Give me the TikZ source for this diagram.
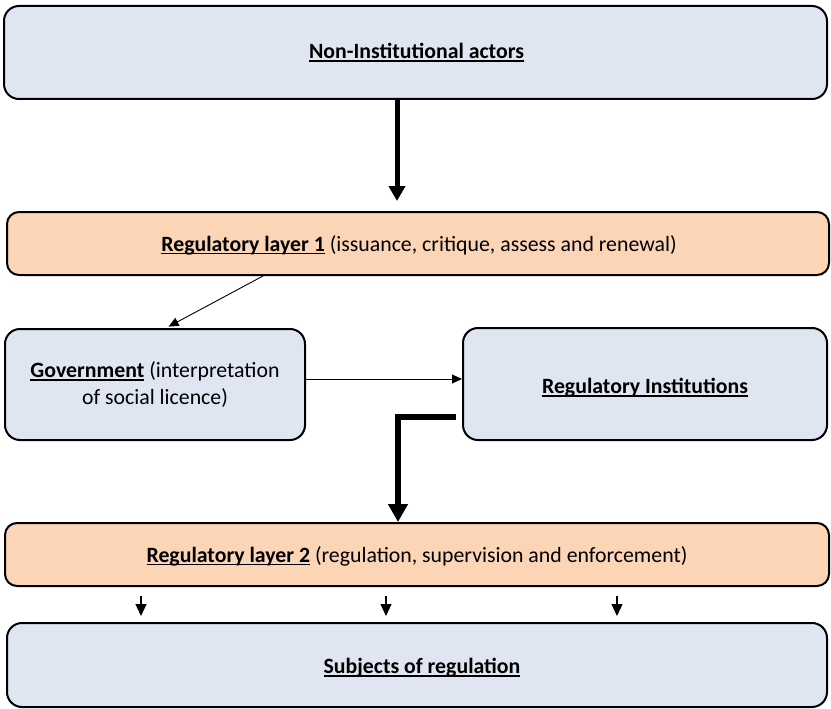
\documentclass[tikz,border=0pt]{standalone}
\usepackage{fontspec}
\setmainfont{Carlito}
\usetikzlibrary{arrows.meta,calc}
\newsavebox\myulbox
\newcommand\myul[1]{\sbox\myulbox{#1}\rlap{\rule[-3pt]{\wd\myulbox}{1.5pt}}\usebox\myulbox}
\definecolor{boxblue}{RGB}{223,230,242}
\definecolor{boxsalmon}{RGB}{252,213,183}
\begin{document}
\begin{tikzpicture}[x=1pt,y=-1pt,
  every node/.style={font=\fontsize{21.8}{26.8}\selectfont},
  bluebox/.style={draw=black,line width=2pt,rounded corners=15pt,fill=boxblue,inner sep=0pt},
  salmonbox/.style={draw=black,line width=2pt,rounded corners=12pt,fill=boxsalmon,inner sep=0pt},
  thickarrow/.style={line width=5pt,-{Triangle[length=15pt,width=16pt]}},
  elbowarrow/.style={line width=6pt,-{Triangle[length=18pt,width=19pt]}},
  thinarrow/.style={line width=0.9pt,-{Triangle[length=10pt,width=9pt]}},
  smallarrow/.style={line width=1.2pt,-{Triangle[length=12pt,width=11pt]}}
]
\useasboundingbox (0,0) rectangle (831,709);

\node[bluebox,minimum width=823pt,minimum height=93pt] (n1) at (415.5,52.5) {};
\node at (416.5,52.5) {\myul{\textbf{Non-Institutional actors}}};

\node[salmonbox,minimum width=822pt,minimum height=63pt] (l1) at (418,243.5) {};
\node at (419,245) {\myul{\textbf{Regulatory layer 1}} (issuance, critique, assess and renewal)};

\node[bluebox,minimum width=300pt,minimum height=111pt] (gov) at (155,384.5) {};
\node[align=center] at (155,384.5) {\myul{\textbf{Government}} (interpretation\\of social licence)};

\node[bluebox,minimum width=364pt,minimum height=112pt] (ri) at (645,384) {};
\node at (645,388) {\myul{\textbf{Regulatory Institutions}}};

\node[salmonbox,minimum width=824pt,minimum height=63pt] (l2) at (417,554.5) {};
\node at (417,556) {\myul{\textbf{Regulatory layer 2}} (regulation, supervision and enforcement)};

\node[bluebox,minimum width=820pt,minimum height=84pt] (subj) at (417,665) {};
\node at (422,668) {\myul{\textbf{Subjects of regulation}}};

\coordinate (ax) at (397,0);
\coordinate (t1) at (263,0);
\coordinate (t2) at (166,0);
\coordinate (gy) at (0,379);
\coordinate (ey) at (0,417);
\coordinate (ex) at (398,0);
\coordinate (s1) at (141,0);
\coordinate (s2) at (386,0);
\coordinate (s3) at (617,0);

\draw[thickarrow,shorten >=10pt] (n1.south -| ax) -- (l1.north -| ax);
\draw[thinarrow,shorten >=3pt] (l1.south -| t1) -- (gov.north -| t2);
\draw[thinarrow] (gov.east |- gy) -- (ri.west |- gy);
\draw[elbowarrow,shorten <=6pt] (ri.west |- ey) -- (ex |- ey) -- (l2.north -| ex);
\foreach \s in {s1,s2,s3}
  \draw[smallarrow,shorten <=9pt,shorten >=6pt] (l2.south -| \s) -- (subj.north -| \s);
\end{tikzpicture}
\end{document}
